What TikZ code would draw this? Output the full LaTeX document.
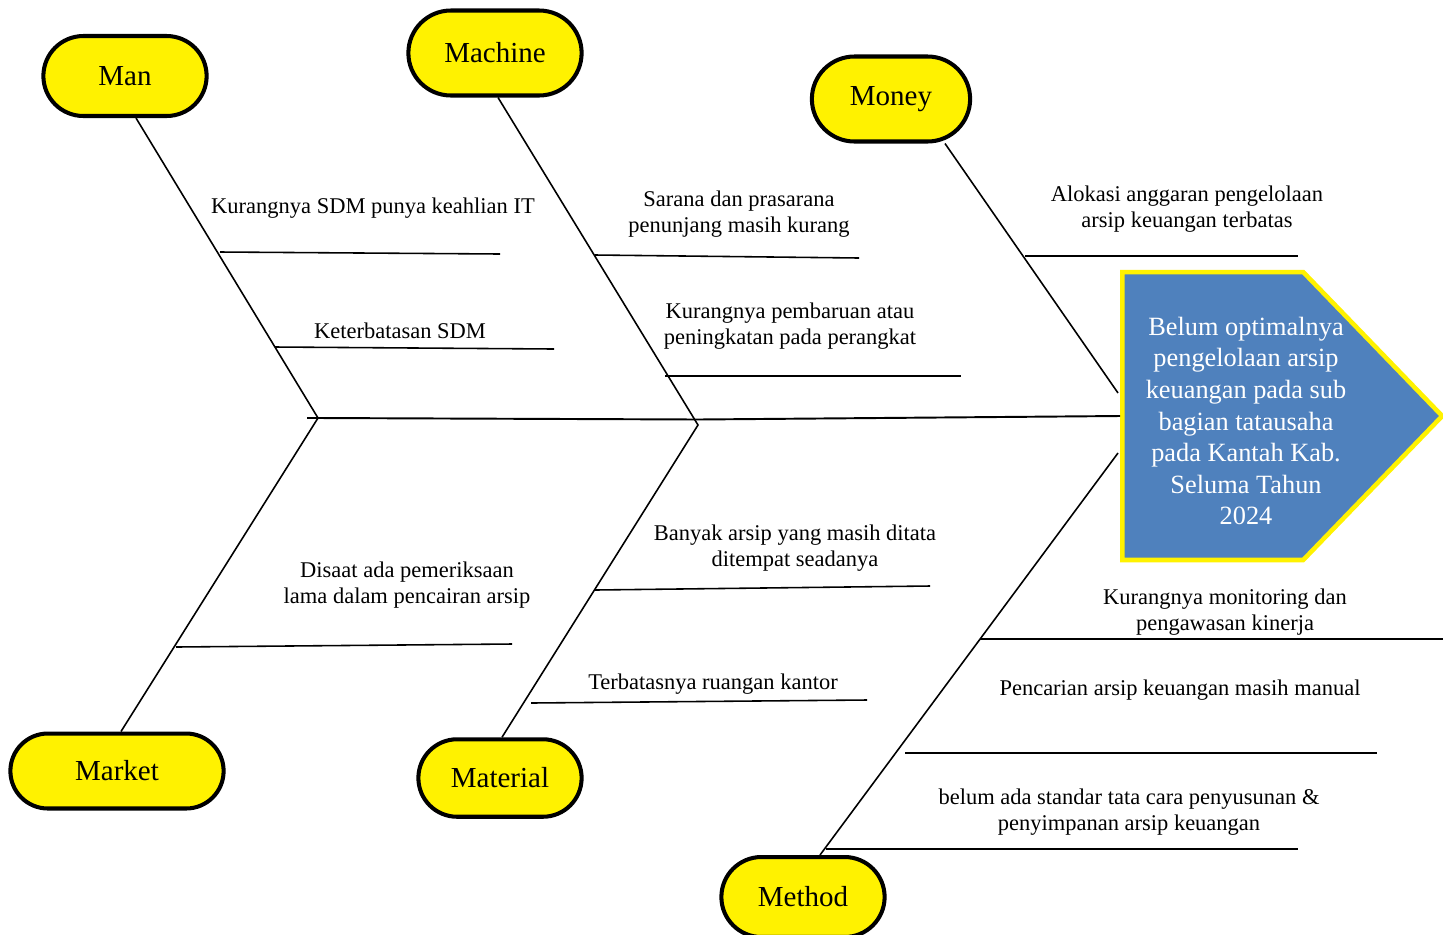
\documentclass[tikz,border=0pt]{standalone}
\usepackage{fontspec}
\setmainfont{Liberation Serif}
\usetikzlibrary{shapes.misc,shapes.symbols}

\definecolor{headblue}{HTML}{4F81BD}

\begin{document}
\begin{tikzpicture}[x=0.02cm,y=-0.02cm,
	cat_node/.style={rounded rectangle,draw,fill=yellow,line width=2.3pt,minimum height=1.6cm,font=\fontsize{16.5}{19}\selectfont},
	cause_text/.style={align=center,inner sep=0pt,font=\fontsize{12.8}{14.8}\selectfont},
	bone/.style={line width=0.9pt}]
	    \useasboundingbox (0,0) rectangle (1443,934);

	    % problem (head)
	    \node[signal,signal to=east,signal pointer angle=92,draw=yellow,fill=headblue,line width=2.6pt,
	          minimum width=6.4cm,minimum height=5.76cm,inner sep=0pt,anchor=west] (head) at (1120,416) {};
	    \node[align=center,text=white,font=\fontsize{15}{18}\selectfont] (head_txt) at (1246,421)
	        {Belum optimalnya\\pengelolaan arsip\\keuangan pada sub\\bagian tatausaha\\pada Kantah Kab.\\Seluma Tahun\\2024};

	    % categories
	    \node[cat_node,minimum width=3.5cm] (man) at (125,76) {Man};
	    \node[cat_node,minimum width=3.7cm,minimum height=1.7cm] (machine) at (495,53) {Machine};
	    \node[cat_node,minimum width=3.4cm,minimum height=1.7cm] (money) at (891,99) {Money};
	    \node[cat_node,minimum width=4.5cm,minimum height=1.5cm] (market) at (117,771) {Market};
	    \node[cat_node,minimum width=3.5cm,minimum height=1.55cm] (material) at (500,778) {Material};
	    \node[cat_node,minimum width=3.5cm,minimum height=1.6cm] (method) at (803,897) {Method};

	    % spine points
	    \coordinate (s1) at (318,418);
	    \coordinate (s2) at (698,425);
	    \coordinate (s3) at (1118,393);
	    \coordinate (s4) at (1118,453);

	    \draw[line width=1.1pt] (307,418) -- (s1) -- (698,419.5) -- (head.west);
	    \draw[bone] ([xshift=0.22cm]man.south) -- (s1) -- ([xshift=0.08cm]market.north);
	    \draw[bone] ([xshift=0.06cm]machine.south) -- (s2) -- ([xshift=0.04cm]material.north);
	    \draw[bone] ([xshift=1.08cm]money.south) -- (s3);
	    \draw[bone] (s4) -- ([xshift=0.34cm]method.north);

	    % causes
	    \coordinate (a1) at (220,252);  \coordinate (a2) at (500,254);
	    \coordinate (b1) at (275,347);  \coordinate (b2) at (554,349);
	    \coordinate (c1) at (595,255);  \coordinate (c2) at (859,258);
	    \coordinate (d1) at (665,376);  \coordinate (d2) at (961,376);
	    \coordinate (e1) at (1025,256); \coordinate (e2) at (1298,256);
	    \coordinate (f1) at (176,647);  \coordinate (f2) at (512,644);
	    \coordinate (g1) at (595,590);  \coordinate (g2) at (930,586);
	    \coordinate (h1) at (531,703);  \coordinate (h2) at (867,700);
	    \coordinate (i1) at (980,639);  \coordinate (i2) at (1443,639);
	    \coordinate (j1) at (905,753);  \coordinate (j2) at (1377,753);
	    \coordinate (k1) at (826,849);  \coordinate (k2) at (1298,849);

	    \draw[bone] (a1) -- (a2);
	    \draw[bone] (b1) -- (b2);
	    \draw[bone] (c1) -- (c2);
	    \draw[bone] (d1) -- (d2);
	    \draw[bone] (e1) -- (e2);
	    \draw[bone] (f1) -- (f2);
	    \draw[bone] (g1) -- (g2);
	    \draw[bone] (h1) -- (h2);
	    \draw[bone] (i1) -- (i2);
	    \draw[bone] (j1) -- (j2);
	    \draw[bone] (k1) -- (k2);

	    \node[cause_text] (t1) at (373,208) {Kurangnya SDM punya keahlian IT};
	    \node[cause_text] (t2) at (400,331) {Keterbatasan SDM};
	    \node[cause_text] (t3) at (739,214) {Sarana dan prasarana\\penunjang masih kurang};
	    \node[cause_text] (t4) at (790,326) {Kurangnya pembaruan atau\\peningkatan pada perangkat};
	    \node[cause_text] (t5) at (1187,209) {Alokasi anggaran pengelolaan\\arsip keuangan terbatas};
	    \node[cause_text] (t6) at (407,585) {Disaat ada pemeriksaan\\lama dalam pencairan arsip};
	    \node[cause_text] (t7) at (795,548) {Banyak arsip yang masih ditata\\ditempat seadanya};
	    \node[cause_text] (t8) at (713,684) {Terbatasnya ruangan kantor};
	    \node[cause_text] (t9) at (1225,612) {Kurangnya monitoring dan\\pengawasan kinerja};
	    \node[cause_text] (t10) at (1180,690) {Pencarian arsip keuangan masih manual};
	    \node[cause_text] (t11) at (1129,812) {belum ada standar tata cara penyusunan \&\\penyimpanan arsip keuangan};
\end{tikzpicture}
\end{document}
